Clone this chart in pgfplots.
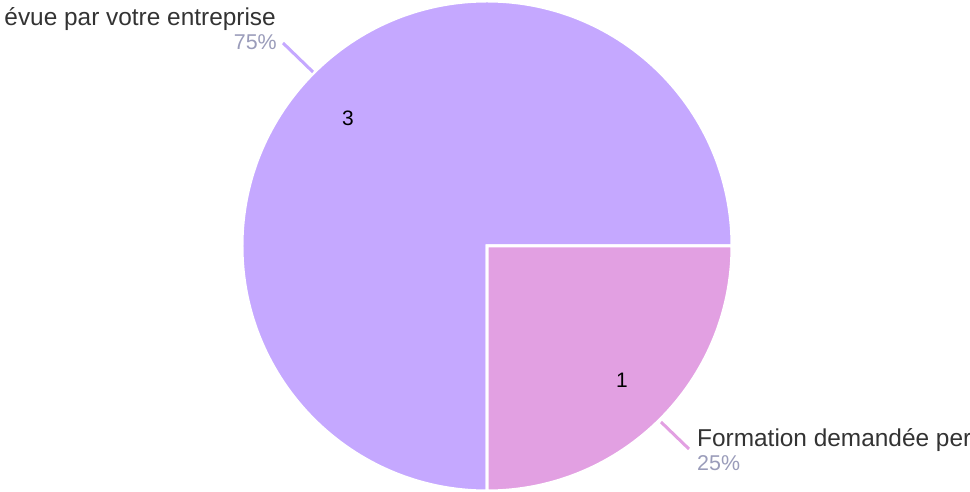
\documentclass[border=0pt]{standalone}
\usepackage{pgfplots}
\pgfplotsset{compat=1.18}
\usepackage{fontspec}
\setmainfont{Liberation Sans}
\definecolor{sliceA}{HTML}{C5A8FF}
\definecolor{sliceB}{HTML}{E2A0E2}
\definecolor{txt}{HTML}{333333}
\definecolor{pct}{HTML}{9A9CBA}
% data
\def\valA{3}
\def\valB{1}
\begin{document}
\begin{tikzpicture}
\useasboundingbox (0,0) rectangle (970bp,492bp);
\begin{axis}[
  width=970bp, height=492bp, scale only axis,
  xmin=0, xmax=970, ymin=0, ymax=492,
  hide axis, clip=false,
]
\pgfmathsetmacro\tot{\valA+\valB}
\pgfmathsetmacro\angB{-360*\valB/\tot}
\pgfmathsetmacro\angA{360*\valA/\tot}
% slices
\filldraw[fill=sliceA, draw=white, line width=3bp, line join=miter]
  (axis cs:487,246) -- ++(0:245bp) arc[start angle=0, end angle=\angA, radius=245bp] -- cycle;
\filldraw[fill=sliceB, draw=white, line width=3bp, line join=miter]
  (axis cs:487,246) -- ++(0:245bp) arc[start angle=0, end angle=\angB, radius=245bp] -- cycle;
% leader lines
\addplot[sliceA, line width=3bp, no marks] coordinates {(283,449) (313,420)};
\addplot[sliceB, line width=3bp, no marks] coordinates {(661,70) (689,43)};
% value labels
\node[black, font=\fontsize{21}{25}\selectfont] at (axis cs:348,374) {\valA};
\node[black, font=\fontsize{21}{25}\selectfont] at (axis cs:622,112) {\valB};
% outer labels
\node[txt, anchor=base east, inner sep=0pt, font=\fontsize{24.5}{28}\selectfont] at (axis cs:276,466) {évue par votre entreprise};
\node[pct, anchor=base east, inner sep=0pt, font=\fontsize{21.5}{25}\selectfont] at (axis cs:277,442) {75\%};
\node[txt, anchor=base west, inner sep=0pt, font=\fontsize{24.5}{28}\selectfont] at (axis cs:697,45) {Formation demandée per};
\node[pct, anchor=base west, inner sep=0pt, font=\fontsize{21.5}{25}\selectfont] at (axis cs:697,22) {25\%};
\end{axis}
\end{tikzpicture}
\end{document}
